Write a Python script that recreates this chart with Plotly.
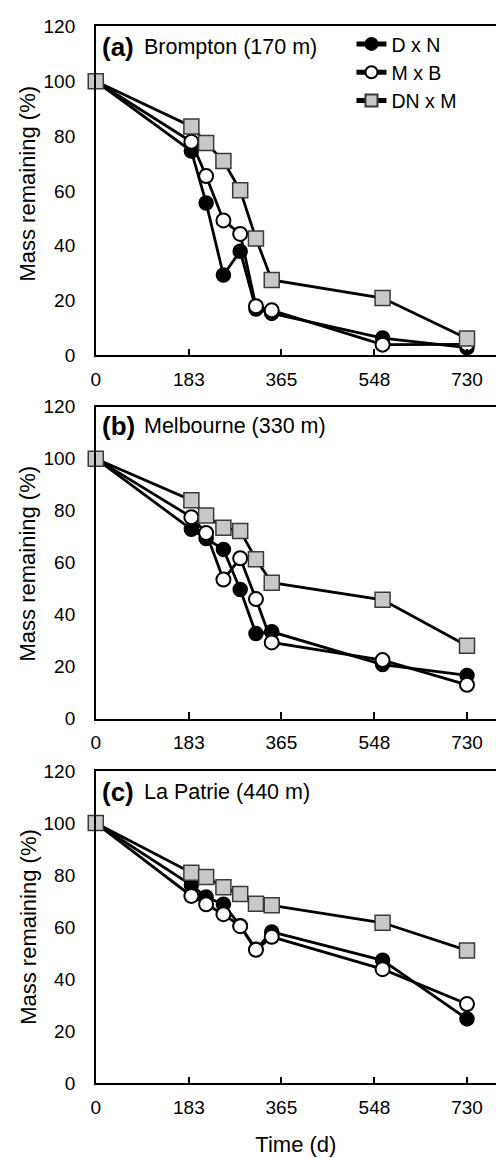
import plotly.graph_objects as go

# Sampling days of the litterbag retrievals
days = [0, 188, 217, 251, 284, 315, 346, 564, 730]
x_ticks = [0, 183, 365, 548, 730]
y_ticks = [0, 20, 40, 60, 80, 100, 120]

series_names = ["D x N", "M x B", "DN x M"]

# Mass remaining (%) per site and cross type
brompton_dxn = [100, 74.5, 55.6, 29.3, 38.0, 16.9, 15.3, 6.3, 2.8]
brompton_mxb = [100, 77.9, 65.4, 49.2, 44.3, 17.9, 16.4, 3.9, 4.0]
brompton_dnxm = [100, 83.5, 77.5, 70.9, 60.2, 42.6, 27.5, 20.9, 6.1]

melbourne_dxn = [100, 72.8, 69.3, 65.1, 49.7, 32.7, 33.4, 20.8, 16.6]
melbourne_mxb = [100, 77.5, 71.4, 53.5, 61.7, 46.0, 29.3, 22.5, 13.0]
melbourne_dnxm = [100, 84.0, 78.1, 73.4, 72.2, 61.3, 52.3, 45.7, 28.0]

lapatrie_dxn = [100, 76.2, 71.6, 68.8, 60.6, 51.5, 58.2, 47.3, 24.8]
lapatrie_mxb = [100, 72.0, 68.8, 65.0, 60.4, 51.3, 56.3, 43.9, 30.5]
lapatrie_dnxm = [100, 80.9, 79.3, 75.3, 72.8, 69.0, 68.4, 61.7, 51.1]

panel_tags = ["(a)", "(b)", "(c)"]
site_names = ["Brompton (170 m)", "Melbourne (330 m)", "La Patrie (440 m)"]
panel_data = [
    [brompton_dxn, brompton_mxb, brompton_dnxm],
    [melbourne_dxn, melbourne_mxb, melbourne_dnxm],
    [lapatrie_dxn, lapatrie_mxb, lapatrie_dnxm],
]

W, H = 496, 1158
FONT = "Liberation Sans, Arial, sans-serif"

# pixel layout of the three panels (left, right, top, bottom)
x_left, x_right = 91.7, 496
panels_px = [(16.7, 351.7), (404.0, 721.7), (775.0, 1093.3)]
ytitle_centers = [177, 564, 934]
label_centers = [38, 424, 796]

marker_styles = [
    dict(symbol="circle", size=14, color="black", line=dict(color="black", width=1.5)),
    dict(symbol="circle", size=14, color="white", line=dict(color="black", width=2)),
    dict(symbol="square", size=15, color="#c8c8c8", line=dict(color="#3a3a3a", width=1.5)),
]

fig = go.Figure()

for p, series in enumerate(panel_data):
    sfx = "" if p == 0 else str(p + 1)
    for s, vals in enumerate(series):
        fig.add_trace(go.Scatter(
            x=days, y=vals, mode="lines+markers",
            name=series_names[s], legendgroup=series_names[s],
            showlegend=(p == 0),
            line=dict(color="black", width=2.8),
            marker=marker_styles[s],
            cliponaxis=False,
            xaxis="x" + sfx, yaxis="y" + sfx,
        ))

layout = dict(
    width=W, height=H,
    margin=dict(l=0, r=0, t=0, b=0),
    paper_bgcolor="white", plot_bgcolor="white",
    font=dict(family=FONT, size=19, color="black"),
    showlegend=True,
    legend=dict(
        x=350 / W, y=1 - 15 / H, xanchor="left", yanchor="top",
        bgcolor="rgba(0,0,0,0)", font=dict(size=19.5),
        itemsizing="constant", tracegroupgap=0,
    ),
)

annotations = []
x_span = (x_right - x_left) / 0.5137  # days covered by the plot width

for p, (top, bottom) in enumerate(panels_px):
    sfx = "" if p == 0 else str(p + 1)
    layout["xaxis" + sfx] = dict(
        domain=[x_left / W, x_right / W], range=[0, x_span],
        anchor="y" + sfx,
        tickvals=x_ticks, ticktext=[str(t) for t in x_ticks],
        ticks="inside", ticklen=7, tickwidth=1.5, tickcolor="black",
        showline=True, linecolor="black", linewidth=1.5, mirror=True,
        showgrid=False, zeroline=False, ticklabelstandoff=6,
        tickfont=dict(size=19),
    )
    layout["yaxis" + sfx] = dict(
        domain=[(H - bottom) / H, (H - top) / H], range=[0, 120],
        anchor="x" + sfx,
        tickvals=y_ticks, ticks="",
        showline=True, linecolor="black", linewidth=1.5,
        showgrid=False, zeroline=False, ticklabelstandoff=15,
        tickfont=dict(size=19),
    )
    # y-axis title
    annotations.append(dict(
        text="Mass remaining (%)", textangle=-90,
        x=23 / W, y=1 - ytitle_centers[p] / H, xref="paper", yref="paper",
        xanchor="center", yanchor="middle", showarrow=False,
        font=dict(size=22),
    ))
    # panel tag and site name
    label_y = 1 - label_centers[p] / H
    annotations.append(dict(
        text="<b>" + panel_tags[p] + "</b>",
        x=96 / W, y=label_y, xref="paper", yref="paper",
        xanchor="left", yanchor="middle", showarrow=False,
        font=dict(size=26),
    ))
    annotations.append(dict(
        text=site_names[p],
        x=138 / W, y=label_y, xref="paper", yref="paper",
        xanchor="left", yanchor="middle", showarrow=False,
        font=dict(size=21.5),
    ))

layout["xaxis3"]["title"] = dict(text="Time (d)", font=dict(size=22), standoff=20)
layout["annotations"] = annotations

fig.update_layout(**layout)
fig.write_html("out.html")
